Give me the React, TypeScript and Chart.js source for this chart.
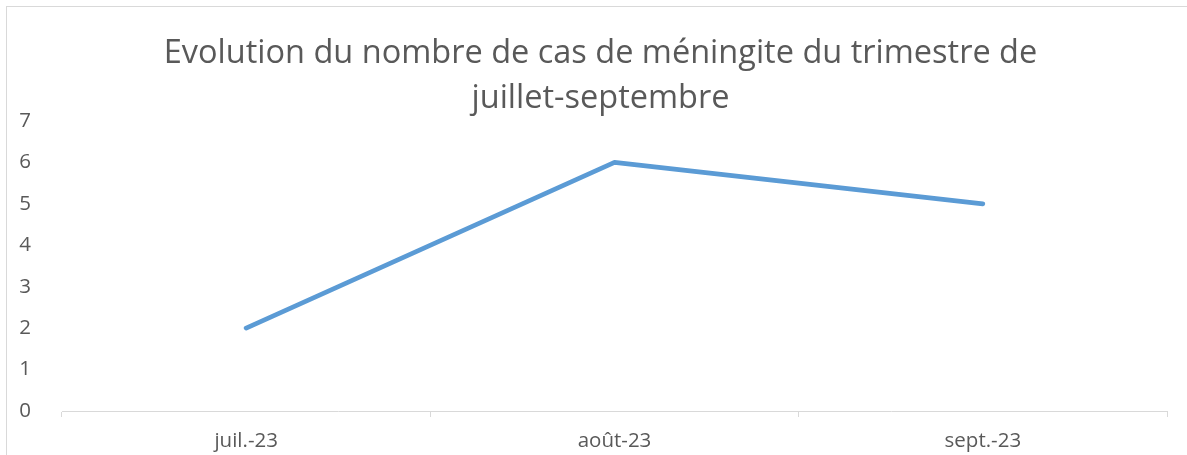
import React, { useEffect, useRef } from "react";
import { Chart, registerables } from "chart.js";

Chart.register(...registerables);

const categories = ["juil.-23", "août-23", "sept.-23"];
const cases = [2, 6, 5];
const titleLines = [
  "Evolution du nombre de cas de méningite du trimestre de",
  "juillet-septembre",
];

const FONT = "'Open Sans', 'Liberation Sans', sans-serif";
const TEXT = "#595959";
const AXIS = "#d9d9d9";

const fullWidthTitle = {
  id: "fullWidthTitle",
  afterLayout(chart: any) {
    const t = chart.titleBlock;
    if (t) {
      t.left = 0;
      t.right = chart.width;
      t.width = chart.width;
    }
  },
};

export default function App() {
  const ref = useRef<HTMLCanvasElement | null>(null);

  useEffect(() => {
    if (!ref.current) return;
    const chart = new Chart(ref.current, {
      type: "line",
      data: {
        labels: categories,
        datasets: [
          {
            label: "Cas",
            data: cases,
            borderColor: "#5b9bd5",
            backgroundColor: "#5b9bd5",
            borderWidth: 4.75,
            borderCapStyle: "round",
            borderJoinStyle: "round",
            pointRadius: 0,
            tension: 0,
          },
        ],
      },
      plugins: [fullWidthTitle],
      options: {
        animation: false,
        responsive: false,
        maintainAspectRatio: false,
        layout: { padding: { left: 0, right: 27, top: 0, bottom: 0 } },
        plugins: {
          legend: { display: false },
          tooltip: { enabled: false },
          title: {
            display: true,
            text: titleLines,
            color: TEXT,
            font: { family: FONT, size: 32.5, weight: "normal", lineHeight: "45px" },
            padding: { top: 24, bottom: 0 },
          },
        },
        scales: {
          x: {
            type: "category",
            offset: true,
            grid: {
              display: true,
              offset: true,
              drawOnChartArea: false,
              drawTicks: true,
              tickLength: 6,
              color: AXIS,
              lineWidth: 1,
            },
            border: { display: true, color: AXIS, width: 1 },
            ticks: {
              color: TEXT,
              font: { family: FONT, size: 20.5 },
              padding: 12,
              maxRotation: 0,
            },
            afterFit: (scale: any) => {
              scale.height = 51;
            },
          },
          y: {
            min: 0,
            max: 7,
            grid: { display: false },
            border: { display: false },
            ticks: {
              stepSize: 1,
              color: TEXT,
              font: { family: FONT, size: 20.5 },
              padding: 23,
            },
            afterFit: (scale: any) => {
              scale.width = 55;
            },
          },
        },
      },
    });
    return () => chart.destroy();
  }, []);

  return (
    <div
      style={{
        position: "fixed",
        left: 0,
        top: 0,
        width: 1187,
        height: 455,
        overflow: "hidden",
        background: "#ffffff",
      }}
    >
      <div
        style={{
          position: "absolute",
          left: 6,
          top: 6,
          width: 1187,
          height: 455,
          borderLeft: `1px solid ${AXIS}`,
          borderTop: `1px solid ${AXIS}`,
        }}
      >
        <canvas ref={ref} width={1187} height={455} style={{ display: "block" }} />
      </div>
    </div>
  );
}
